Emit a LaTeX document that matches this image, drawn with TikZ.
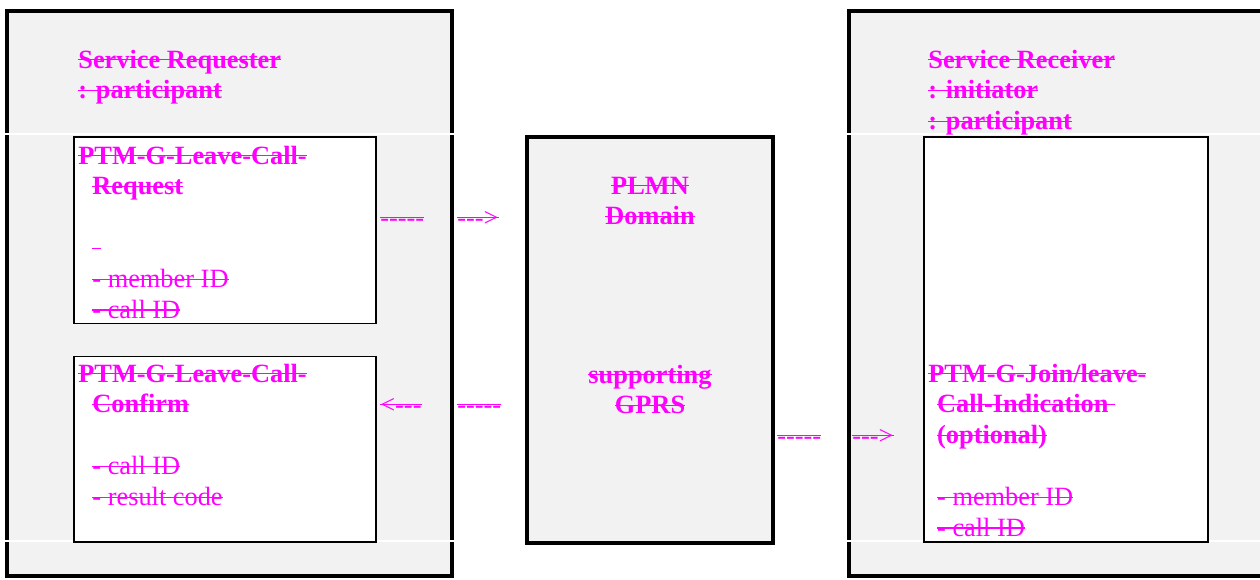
\documentclass[tikz,border=0pt]{standalone}
\usepackage{fontspec}
\setmainfont{Liberation Serif}
\usepackage{xcolor}
\usetikzlibrary{fit}
\definecolor{boxgray}{HTML}{F2F2F2}
\definecolor{delmag}{HTML}{FF00FF}
\newsavebox{\delbox}
\newcommand{\del}[1]{\sbox{\delbox}{#1}\rlap{\rule[0.3em]{\wd\delbox}{0.7pt}}\usebox{\delbox}}
\newcommand{\hy}{\mbox{-}}
\newcommand{\ind}{\hspace*{8pt}}
\newcommand{\indr}{\hspace*{5pt}}

\begin{document}
\begin{tikzpicture}[x=0.02cm,y=-0.02cm,
	outerbox/.style={draw, line width=2.3pt, fill=boxgray, inner sep=0pt},
	msgbox/.style={draw, line width=1.1pt, fill=white, inner sep=0pt},
	netbox/.style={draw, line width=2.3pt, fill=boxgray, inner sep=0pt},
	cutline/.style={draw=white, line width=0.6pt},
	txt/.style={text=delmag, inner sep=0pt, font=\fontsize{15}{17.6}\selectfont},
	hdr/.style={txt, font=\fontsize{15}{17.6}\selectfont\bfseries}]
	\useasboundingbox (0,0) rectangle (1260,579);
	%outer boxes
	\node [outerbox, fit={(7,11) (452,576)}] (requester) {};
	\node [outerbox, fit={(849,11) (1266,576)}] (receiver) {};
	%table cell edges
	\draw [cutline] (0,134) -- (1260,134);
	\draw [cutline] (0,541) -- (1260,541);
	%message boxes
	\node [msgbox, fit={(74,137) (376,323.5)}] (reqbox) {};
	\node [msgbox, fit={(74,356.5) (376,541.7)}] (cnfbox) {};
	\node [msgbox, fit={(924,137) (1208,542)}] (indbox) {};
	%network box
	\node [netbox, fit={(527,137) (773,543)}] (plmn) {};

	%titles
	\node [hdr, anchor=base west] at (78,68) (reqtitle) {\begin{tabular}[t]{@{}l@{}}
		\del{Service Requester}\\
		\del{: participant}
	\end{tabular}};
	\node [hdr, anchor=base west] at (928,68) (rcvtitle) {\begin{tabular}[t]{@{}l@{}}
		\del{Service Receiver}\\
		\del{: initiator}\\
		\del{: participant}
	\end{tabular}};

	%messages
	\node [txt, anchor=base west] at (78,164) (reqmsg) {\begin{tabular}[t]{@{}l@{}}
		{\bfseries\del{PTM-G-Leave-Call-}}\\
		\ind{\bfseries\del{Request}}\\
		\\
		\ind\del{\phantom{-}}\\
		\ind\del{- member ID}\\
		\ind\del{- call ID}
	\end{tabular}};
	\node [txt, anchor=base west] at (78,382) (cnfmsg) {\begin{tabular}[t]{@{}l@{}}
		{\bfseries\del{PTM-G-Leave-Call-}}\\
		\ind{\bfseries\del{Confirm}}\\
		\\
		\ind\del{- call ID}\\
		\ind\del{- result code}
	\end{tabular}};
	\node [txt, anchor=base west] at (928,382) (indmsg) {\begin{tabular}[t]{@{}l@{}}
		{\bfseries\del{PTM-G-Join/leave-}}\\
		\indr{\bfseries\del{Call-Indication }}\\
		\indr{\bfseries\del{(optional)}}\\
		\\
		\indr\del{- member ID}\\
		\indr\del{- call ID}
	\end{tabular}};

	%network
	\node [hdr, anchor=base] at (650,194) (plmnname) {\begin{tabular}[t]{@{}c@{}}
		\del{PLMN}\\
		\del{Domain}
	\end{tabular}};
	\node [hdr, anchor=base] at (650,383) (gprsname) {\begin{tabular}[t]{@{}c@{}}
		\del{supporting}\\
		\del{GPRS}
	\end{tabular}};

	%flows
	\node [txt, anchor=base west] at (380,226) (reqout) {\del{\hy\hy\hy\hy\hy}};
	\node [txt, anchor=base west] at (457,226) (reqin) {\del{\hy\hy\hy>}};
	\node [txt, anchor=base west] at (380,413) (cnfin) {\del{<\hy\hy\hy}};
	\node [txt, anchor=base west] at (457,413) (cnfout) {\del{\hy\hy\hy\hy\hy}};
	\node [txt, anchor=base west] at (777,444) (indout) {\del{\hy\hy\hy\hy\hy}};
	\node [txt, anchor=base west] at (852,444) (indin) {\del{\hy\hy\hy>}};
\end{tikzpicture}
\end{document}
